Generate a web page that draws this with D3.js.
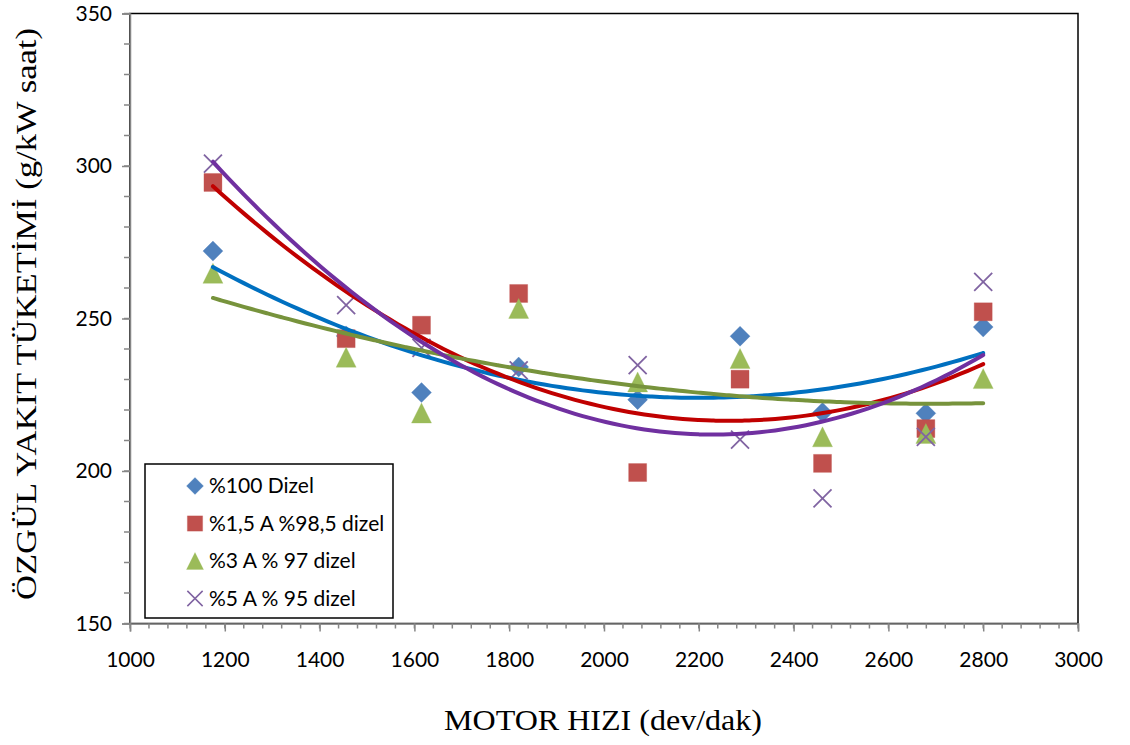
<!DOCTYPE html>
<html>
<head>
<meta charset="utf-8">
<script src="https://cdn.jsdelivr.net/npm/d3@7"></script>
<style>
  body { margin: 0; background: #fff; }
  .tick_lbl { font-family: Lato, "Open Sans", sans-serif; font-size: 21px; fill: #000; }
  .axis_title { font-family: "Liberation Serif", "Times New Roman", serif; font-size: 30px; fill: #000; }
  .legend_lbl { font-family: Lato, "Open Sans", sans-serif; font-size: 21px; fill: #000; }
</style>
</head>
<body>
<script>
// engine speed (dev/dak)
var speeds = [1175, 1456, 1615, 1820, 2071, 2287, 2461, 2679, 2800];

// specific fuel consumption (g/kW saat)
var dizel100 = [272.1, 244.3, 225.7, 234.1, 223.4, 244.2, 219.2, 218.9, 247.2];
var a15 = [294.6, 243.4, 247.8, 258.2, 199.5, 230.1, 202.5, 213.9, 252.2];
var a3 = [264.8, 237.3, 219, 253.3, 229.2, 236.9, 211.2, 212.3, 230.3];
var a5 = [300.8, 254.4, 240.4, 233, 234.7, 210.3, 191, 211.2, 262];

var series_names = ["%100 Dizel", "%1,5 A %98,5 dizel", "%3 A % 97 dizel", "%5 A % 95 dizel"];
var x_ticks = [1000, 1200, 1400, 1600, 1800, 2000, 2200, 2400, 2600, 2800, 3000];
var y_ticks = [150, 200, 250, 300, 350];

var series = [
    {name: series_names[0], values: dizel100, marker: "diamond", color: "#4F81BD", trend: "#0070C0"},
    {name: series_names[1], values: a15, marker: "square", color: "#C0504D", trend: "#C00000"},
    {name: series_names[2], values: a3, marker: "triangle", color: "#9BBB59", trend: "#77933C"},
    {name: series_names[3], values: a5, marker: "cross", color: "#8064A2", trend: "#7030A0"}
];

var plot_left = 130, plot_top = 13.5, plot_width = 948, plot_height = 610;

var svg = d3.select("body").append("svg")
        .attr("width", 1130)
        .attr("height", 745);

var scale_x = d3.scaleLinear().domain([1000, 3000]).range([plot_left, plot_left + plot_width]);
var scale_y = d3.scaleLinear().domain([150, 350]).range([plot_top + plot_height, plot_top]);

// plot area border (top / right)
svg.append("rect")
        .attr("x", plot_left).attr("y", plot_top)
        .attr("width", plot_width).attr("height", plot_height)
        .style("fill", "none")
        .style("stroke", "#000")
        .style("stroke-width", 1.5);

// minor ticks
var minor_x = d3.range(1000, 3001, 40);
var minor_y = d3.range(150, 351, 10);
svg.append("g").selectAll("line").data(minor_x).enter().append("line")
        .attr("x1", d => scale_x(d)).attr("x2", d => scale_x(d))
        .attr("y1", plot_top + plot_height).attr("y2", plot_top + plot_height + 5)
        .style("stroke", "#868686").style("stroke-width", 1.5);
svg.append("g").selectAll("line").data(minor_y).enter().append("line")
        .attr("x1", plot_left - 6).attr("x2", plot_left)
        .attr("y1", d => scale_y(d)).attr("y2", d => scale_y(d))
        .style("stroke", "#868686").style("stroke-width", 1.5);

// x-axis
var x_axis = svg.append("g")
        .attr("transform", "translate(0," + (plot_top + plot_height) + ")")
        .call(d3.axisBottom(scale_x).tickValues(x_ticks).tickSize(8).tickPadding(21).tickFormat(d3.format("d")));
x_axis.selectAll("text").attr("class", "tick_lbl");

// y-axis
var y_axis = svg.append("g")
        .attr("transform", "translate(" + plot_left + ",0)")
        .call(d3.axisLeft(scale_y).tickValues(y_ticks).tickSize(8).tickPadding(10).tickFormat(d3.format("d")));
y_axis.selectAll("text").attr("class", "tick_lbl");

[x_axis, y_axis].forEach(function(ax){
    ax.attr("font-size", null).attr("font-family", null);
    ax.select(".domain").style("stroke", "#868686").style("stroke-width", 1.5);
    ax.selectAll(".tick line").style("stroke", "#868686").style("stroke-width", 1.5);
});

// markers
function marker_path(type) {
    if (type == "diamond") return "M0,-10L10,0L0,10L-10,0Z";
    if (type == "square") return "M-9,-9H9V9H-9Z";
    if (type == "triangle") return "M0,-10L10,10H-10Z";
    return "M-9,-9L9,9M-9,9L9,-9";
}

function draw_marker(g, type, color) {
    var p = g.append("path").attr("d", marker_path(type));
    if (type == "cross") {
        p.style("fill", "none").style("stroke", color).style("stroke-width", 1.8);
    } else {
        p.style("fill", color).style("stroke", color).style("stroke-width", 0.5)
         .style("stroke-opacity", 0.6);
    }
}

series.forEach(function(s){
    var g = svg.append("g");
    s.values.forEach(function(v, i){
        var mg = g.append("g")
                .attr("transform", "translate(" + scale_x(speeds[i]) + "," + scale_y(v) + ")");
        draw_marker(mg, s.marker, s.color);
    });
});

// 2nd order polynomial trendlines (least squares)
function poly2_fit(xs, ys) {
    var m = d3.mean(xs);
    var s = [0, 0, 0, 0, 0], t = [0, 0, 0];
    xs.forEach(function(x, i){
        var u = x - m;
        for (var k = 0; k < 5; k++) s[k] += Math.pow(u, k);
        for (var k = 0; k < 3; k++) t[k] += ys[i] * Math.pow(u, k);
    });
    var A = [[s[0], s[1], s[2], t[0]],
             [s[1], s[2], s[3], t[1]],
             [s[2], s[3], s[4], t[2]]];
    for (var c = 0; c < 3; c++) {
        for (var r = c + 1; r < 3; r++) {
            var f = A[r][c] / A[c][c];
            for (var k = c; k < 4; k++) A[r][k] -= f * A[c][k];
        }
    }
    var b = [0, 0, 0];
    for (var r = 2; r >= 0; r--) {
        var acc = A[r][3];
        for (var k = r + 1; k < 3; k++) acc -= A[r][k] * b[k];
        b[r] = acc / A[r][r];
    }
    return function(x){ var u = x - m; return b[0] + b[1]*u + b[2]*u*u; };
}

var x_first = d3.min(speeds), x_last = d3.max(speeds);
var samples = d3.range(0, 101).map(function(i){ return x_first + (x_last - x_first) * i / 100; });

series.forEach(function(s){
    var f = poly2_fit(speeds, s.values);
    var line = d3.line()
            .x(function(d){ return scale_x(d); })
            .y(function(d){ return scale_y(f(d)); })
            .curve(d3.curveMonotoneX);
    svg.append("path")
            .attr("d", line(samples))
            .style("fill", "none")
            .style("stroke", s.trend)
            .style("stroke-width", 4)
            .style("stroke-linecap", "round");
});

// legend
var legend = svg.append("g").attr("transform", "translate(145,464)");
legend.append("rect")
        .attr("width", 248).attr("height", 154)
        .style("fill", "#fff").style("stroke", "#000").style("stroke-width", 1.5);
series.forEach(function(s, i){
    var row = legend.append("g").attr("transform", "translate(50," + (22 + i * 37.5) + ")");
    var mg = row.append("g").attr("transform", "scale(0.85)");
    draw_marker(mg, s.marker, s.color);
    row.append("text")
            .attr("class", "legend_lbl")
            .attr("x", 14)
            .attr("dy", "0.35em")
            .text(s.name);
});

// axis titles
svg.append("text")
        .attr("class", "axis_title")
        .attr("x", 603).attr("y", 730)
        .attr("text-anchor", "middle")
        .attr("textLength", 318)
        .attr("lengthAdjust", "spacingAndGlyphs")
        .text("MOTOR HIZI (dev/dak)");

svg.append("text")
        .attr("class", "axis_title")
        .attr("transform", "translate(36,314) rotate(-90)")
        .attr("text-anchor", "middle")
        .attr("textLength", 572)
        .attr("lengthAdjust", "spacingAndGlyphs")
        .text("ÖZGÜL YAKIT TÜKETİMİ (g/kW saat)");
</script>
</body>
</html>
